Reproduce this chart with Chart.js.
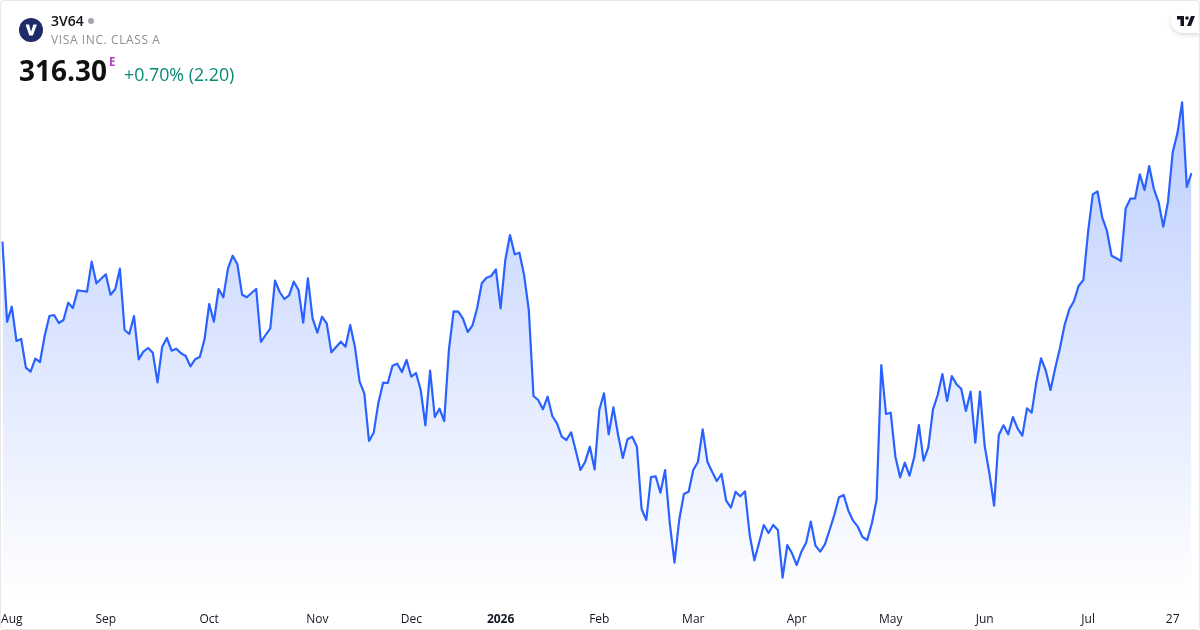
<!DOCTYPE html>
<html>
<head>
<meta charset="utf-8">
<title>3V64</title>
<script src="https://cdn.jsdelivr.net/npm/chart.js@4"></script>
<style>
    html, body { margin: 0; padding: 0; background: #fff; overflow: hidden; }
    #card { position: relative; width: 1200px; height: 630px; font-family: "Open Sans", sans-serif; color: #131722; }
    #usageCanvas { position: absolute; left: 0; top: 0; }
    #frame { position: absolute; inset: 0; border: 1px solid #e8e8e8; border-radius: 4px; box-sizing: border-box; pointer-events: none; }
    #card span, #card svg { position: absolute; white-space: nowrap; line-height: 1; }
    #symbol { left: 51px; top: 14px; font-size: 14px; font-weight: 600; color: #111; }
    #dot { left: 88px; top: 18px; width: 6px; height: 6px; border-radius: 50%; background: #a3a6af; }
    #name { left: 51px; top: 34px; font-size: 12px; color: #8b8e97; letter-spacing: 0.6px; }
    #price { left: 19px; top: 56px; font-size: 28px; font-weight: 700; color: #111; }
    #flag { left: 109px; top: 56px; font-size: 11.5px; font-weight: 700; color: #b23cc0; }
    #change { left: 124px; top: 66px; font-size: 17.8px; color: #078a74; }
    #tvBadge { position: absolute; left: 1171px; top: 9px; width: 29px; height: 24px; background: #fff; border-radius: 12px 0 0 12px; box-shadow: 0 2px 4px rgba(0,0,0,0.14); }
</style>
</head>
<body>
<div id="card">
    <canvas id="usageCanvas" width="1200" height="630"></canvas>
    <svg style="left:19px;top:18px" width="24" height="24" viewBox="0 0 24 24">
        <circle cx="12" cy="12" r="12" fill="#1f2a68"/>
        <path d="M6.6 6.6h3.5l1.9 7.2 2.4-7.2h3.5l-4 10.8h-3.6z" fill="#fff"/>
    </svg>
    <span id="symbol">3V64</span>
    <span id="dot"></span>
    <span id="name">VISA INC. CLASS A</span>
    <span id="price">316.30</span>
    <span id="flag">E</span>
    <span id="change">+0.70% (2.20)</span>
    <div id="tvBadge"></div>
    <svg style="left:1177px;top:16px" width="18" height="10" viewBox="0 0 36 20">
        <path d="M14 0H0v7h7v13h7zM28 20h-8l8-20h8z" fill="#131722"/>
        <circle cx="20" cy="4" r="3.6" fill="#131722"/>
    </svg>
    <div id="frame"></div>
</div>
<script>
const closes = [
    305.33, 292.48, 294.93, 289.44, 289.76, 285.17, 284.53, 286.61, 286.08, 290.29,
    293.44, 293.60, 292.32, 292.80, 295.57, 294.72, 297.55, 297.44, 297.33, 302.13,
    298.67, 299.41, 300.11, 296.85, 297.71, 301.01, 291.20, 290.56, 293.44, 286.51,
    287.73, 288.32, 287.57, 282.83, 288.53, 289.92, 287.89, 288.21, 287.47, 287.04,
    285.39, 286.51, 286.88, 289.71, 295.36, 292.53, 297.76, 296.43, 301.07, 303.09,
    301.71, 296.85, 296.43, 297.12, 297.76, 289.28, 290.40, 291.47, 299.09, 297.28,
    296.16, 296.75, 298.93, 297.60, 292.37, 299.47, 293.07, 290.77, 293.33, 292.27,
    287.63, 288.48, 289.33, 288.53, 292.00, 288.53, 282.93, 281.07, 273.44, 274.77,
    279.57, 282.77, 282.72, 285.49, 285.81, 284.48, 286.40, 283.73, 284.32, 281.60,
    275.95, 284.69, 277.28, 278.61, 276.64, 288.00, 294.19, 294.13, 293.01, 290.88,
    291.89, 294.67, 298.67, 299.57, 299.84, 300.91, 294.67, 302.40, 306.40, 303.31,
    303.57, 300.00, 294.40, 280.64, 280.00, 278.51, 280.53, 277.44, 276.27, 274.13,
    273.60, 274.83, 271.89, 268.80, 270.13, 272.53, 268.91, 278.40, 281.07, 274.51,
    278.83, 274.40, 270.72, 273.71, 274.13, 272.53, 262.56, 260.80, 267.68, 267.79,
    265.17, 268.80, 260.27, 253.97, 260.80, 264.96, 265.33, 268.80, 270.13, 275.31,
    270.13, 268.53, 267.04, 268.16, 263.89, 262.77, 265.33, 264.59, 265.39, 258.40,
    254.35, 257.17, 260.00, 258.72, 260.00, 259.20, 251.57, 256.80, 255.47, 253.60,
    255.73, 257.17, 260.53, 256.69, 255.73, 256.91, 259.20, 261.60, 264.43, 264.80,
    262.29, 260.69, 259.73, 258.08, 257.60, 260.27, 264.00, 285.60, 277.76, 277.97,
    270.93, 267.63, 269.97, 267.89, 270.83, 276.00, 270.29, 272.43, 278.51, 280.80,
    284.16, 279.84, 283.84, 282.51, 281.81, 278.24, 281.33, 273.17, 281.33, 272.64,
    268.27, 263.09, 274.40, 275.95, 274.51, 277.28, 275.47, 274.29, 278.67, 277.97,
    282.93, 286.67, 284.69, 281.60, 285.07, 288.27, 292.00, 294.51, 295.84, 298.29,
    299.20, 306.93, 312.91, 313.39, 309.23, 307.09, 303.09, 302.67, 302.24, 310.67,
    312.21, 312.27, 316.11, 313.60, 317.44, 313.76, 311.63, 307.73, 311.73, 319.63,
    322.67, 327.63, 314.10, 316.30
];
const sessions = closes.map((_, i) => i);
const tickSessions = [2, 22, 44, 67, 87, 106, 127, 147, 169, 189, 209, 231, 249];
const tickLabels = ['Aug', 'Sep', 'Oct', 'Nov', 'Dec', '2026', 'Feb', 'Mar', 'Apr', 'May', 'Jun', 'Jul', '27'];

function areaGradient(ctx) {
    const area = ctx.chart.chartArea;
    if (!area) return 'transparent';
    const g = ctx.chart.ctx.createLinearGradient(0, 100, 0, area.bottom);
    g.addColorStop(0, 'rgba(41, 98, 255, 0.31)');
    g.addColorStop(1, 'rgba(41, 98, 255, 0)');
    return g;
}

new Chart(document.getElementById('usageCanvas'), {
    type: 'line',
    data: {
        labels: sessions,
        datasets: [{
            data: closes,
            borderColor: '#2962ff',
            borderWidth: 2.2,
            borderJoinStyle: 'round',
            backgroundColor: areaGradient,
            fill: 'start',
            pointRadius: 0,
            tension: 0
        }]
    },
    options: {
        responsive: false,
        animation: false,
        layout: { padding: { left: 2.4, right: 8.5, top: 0, bottom: 0 } },
        plugins: { legend: { display: false }, tooltip: { enabled: false } },
        scales: {
            y: { display: false, min: 248, max: 344 },
            x: {
                offset: false,
                grid: { display: false },
                border: { display: false },
                afterFit: (scale) => {
                    scale.height = 30;
                    scale.paddingLeft = 0;
                    scale.paddingRight = 0;
                },
                ticks: {
                    autoSkip: false,
                    maxRotation: 0,
                    padding: 4,
                    color: '#131722',
                    font: (ctx) => ({
                        family: '"Open Sans", sans-serif',
                        size: 12,
                        weight: ctx.tick && ctx.tick.label === '2026' ? '700' : '400'
                    }),
                    callback: (value) => {
                        const at = tickSessions.indexOf(value);
                        return at < 0 ? '' : tickLabels[at];
                    }
                }
            }
        }
    }
});
</script>
</body>
</html>
